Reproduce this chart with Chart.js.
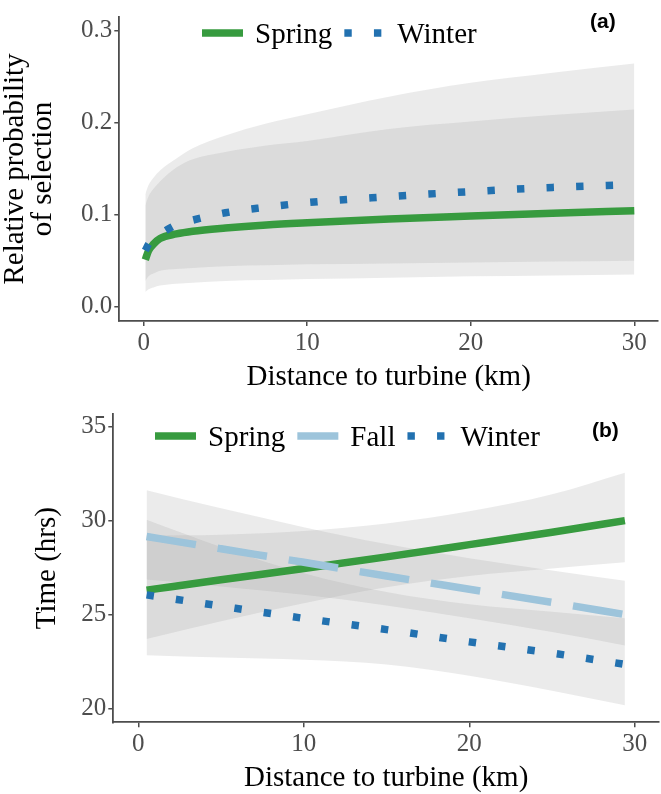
<!DOCTYPE html>
<html><head><meta charset="utf-8">
<script src="https://cdn.jsdelivr.net/npm/chart.js@4"></script>
<style>
html,body{margin:0;padding:0;background:#fff;overflow:hidden;width:661px;height:794px}
canvas{position:absolute;left:0;display:block}
#ca{top:0}
#cb{top:397px}
</style></head>
<body>
<canvas id="ca" width="661" height="397"></canvas>
<canvas id="cb" width="661" height="397"></canvas>
<script>
// ---------- data ----------
const xTicks = [0, 10, 20, 30];
const yTicksA = [0, 0.1, 0.2, 0.3];
const yTicksB = [20, 25, 30, 35];

// panel (a)
const distA     = [0.1, 0.3, 0.6, 1, 2, 3, 5, 7.5, 10, 15, 20, 25, 30];
const springA   = [0.051, 0.061, 0.068, 0.074, 0.079, 0.082, 0.0855, 0.0888, 0.0912, 0.0953, 0.0985, 0.1015, 0.1043];
const springHiA = [0.110, 0.120, 0.128, 0.136, 0.151, 0.160, 0.168, 0.175, 0.180, 0.193, 0.201, 0.208, 0.214];
const springLoA = [0.028, 0.033, 0.036, 0.039, 0.041, 0.042, 0.044, 0.045, 0.046, 0.047, 0.048, 0.049, 0.050];
const winterA   = [0.061, 0.068, 0.075, 0.079, 0.089, 0.094, 0.102, 0.108, 0.113, 0.1195, 0.125, 0.1295, 0.1325];
const winterHiA = [0.122, 0.132, 0.140, 0.148, 0.161, 0.172, 0.186, 0.199, 0.209, 0.228, 0.243, 0.254, 0.264];
const winterLoA = [0.016, 0.019, 0.021, 0.023, 0.025, 0.026, 0.028, 0.029, 0.030, 0.0315, 0.033, 0.034, 0.035];

// panel (b)
const distB     = [0.5, 5, 10, 15, 20, 25, 29.4];
const springB   = [26.3, 26.85, 27.45, 28.07, 28.72, 29.38, 30.0];
const springHiB = [29.2, 29.25, 29.45, 29.85, 30.5, 31.4, 32.55];
const springLoB = [23.7, 24.65, 25.6, 26.45, 27.05, 27.45, 27.78];
const fallB     = [29.15, 28.5, 27.78, 27.05, 26.35, 25.65, 25.0];
const fallHiB   = [31.62, 30.65, 29.65, 28.75, 28.0, 27.35, 26.8];
const fallLoB   = [26.86, 26.5, 26.05, 25.48, 24.8, 24.07, 23.36];
const winterB   = [26.05, 25.45, 24.8, 24.2, 23.55, 22.95, 22.35];
const winterHiB = [30.05, 28.6, 27.2, 26.2, 25.55, 25.15, 24.8];
const winterLoB = [22.84, 22.72, 22.6, 22.35, 21.75, 20.95, 20.18];

// ---------- styles ----------
const SERIF = "'Liberation Serif', 'Times New Roman', serif";
const SANS = "'Liberation Sans', Arial, sans-serif";
const GREEN = '#379b3f', BLUE = '#2271b0', LIGHTBLUE = '#9dc4db';
const BAND = 'rgba(155,155,155,0.2)';
const AXIS = '#4d4d4d';
const LW = 7.5;
const DOT = [7.4, 22.2], LONGDASH = [50, 22];

const pts = (xs, ys) => xs.map((x, i) => ({x: x, y: ys[i]}));

function lineDs(label, xs, ys, color, dash) {
  return {label, inLegend: true, data: pts(xs, ys), borderColor: color, borderWidth: LW,
    borderDash: dash, borderCapStyle: 'butt', pointRadius: 0, fill: false,
    cubicInterpolationMode: 'monotone'};
}
function ribbon(xs, hi, lo) {
  return [
    {label: '_hi', data: pts(xs, hi), borderWidth: 0, borderColor: 'rgba(0,0,0,0)',
     backgroundColor: BAND, fill: '+1', pointRadius: 0, cubicInterpolationMode: 'monotone'},
    {label: '_lo', data: pts(xs, lo), borderWidth: 0, borderColor: 'rgba(0,0,0,0)',
     fill: false, pointRadius: 0, cubicInterpolationMode: 'monotone'}
  ];
}

const insideLegend = {
  id: 'insideLegend',
  afterDraw(chart, args, o) {
    const ctx = chart.ctx;
    ctx.save();
    ctx.font = o.size + 'px ' + SERIF;
    ctx.textBaseline = 'middle';
    ctx.textAlign = 'left';
    let x = o.x;
    chart.data.datasets.filter(d => d.inLegend).sort((a, b) => a.legendOrder - b.legendOrder).forEach(d => {
      ctx.beginPath();
      ctx.setLineDash(d.borderDash || []);
      ctx.lineWidth = d.borderWidth;
      ctx.strokeStyle = d.borderColor;
      ctx.lineCap = 'butt';
      ctx.moveTo(x, o.y);
      ctx.lineTo(x + o.key, o.y);
      ctx.stroke();
      ctx.setLineDash([]);
      ctx.fillStyle = '#000';
      ctx.fillText(d.label, x + o.key + o.gap, o.y + o.textDy);
      x += o.key + o.gap + ctx.measureText(d.label).width + o.gap;
    });
    ctx.font = 'bold ' + o.tagSize + 'px ' + SANS;
    ctx.fillStyle = '#000';
    ctx.fillText(o.tag, o.tagX, o.tagY);
    ctx.restore();
  }
};

function makeScales(cfg) {
  return {
    x: {
      type: 'linear', min: cfg.xmin, max: cfg.xmax,
      afterBuildTicks: s => { s.ticks = xTicks.map(v => ({value: v})); },
      afterFit: s => { s.height = cfg.xh; },
      grid: {drawOnChartArea: false, drawTicks: true, tickLength: 5, color: AXIS, lineWidth: 1.5},
      border: {display: true, color: AXIS, width: 1.8},
      ticks: {color: AXIS, font: {family: SERIF, size: 25}, padding: 2, maxRotation: 0, autoSkip: false,
              callback: v => String(v)},
      title: {display: true, text: 'Distance to turbine (km)', color: '#000',
              font: {family: SERIF, size: 29, lineHeight: 0.95}, padding: {top: 0, bottom: cfg.xtPad}}
    },
    y: {
      type: 'linear', min: cfg.ymin, max: cfg.ymax,
      afterBuildTicks: s => { s.ticks = cfg.yticks.map(v => ({value: v})); },
      afterFit: s => { s.width = cfg.yw; },
      grid: {drawOnChartArea: false, drawTicks: true, tickLength: 5, color: AXIS, lineWidth: 1.5},
      border: {display: true, color: AXIS, width: 1.8},
      ticks: {color: AXIS, font: {family: SERIF, size: 25}, padding: 2, autoSkip: false,
              callback: cfg.yfmt},
      title: {display: true, text: cfg.ytitle, color: '#000',
              font: {family: SERIF, size: 29, lineHeight: 0.97}, padding: {top: cfg.ytPad, bottom: 0}}
    }
  };
}

// ---------- panel (a) ----------
const dsA = [
  Object.assign(lineDs('Winter', distA, winterA, BLUE, DOT), {legendOrder: 2}),
  Object.assign(lineDs('Spring', distA, springA, GREEN, []), {legendOrder: 1}),
  ...ribbon(distA, springHiA, springLoA),
  ...ribbon(distA, winterHiA, winterLoA)
];
new Chart(document.getElementById('ca'), {
  type: 'line',
  data: {datasets: dsA},
  options: {
    responsive: false, animation: false, devicePixelRatio: 1,
    layout: {padding: {top: 2, right: 3, left: 0, bottom: 0}},
    scales: makeScales({xmin: -1.49, xmax: 31.45, ymin: -0.0155, ymax: 0.3145, yticks: yTicksA,
      xh: 76, yw: 119.3, xtPad: 6, ytPad: 1.5, yfmt: v => Number(v).toFixed(1),
      ytitle: ['Relative probability', 'of selection']}),
    plugins: {
      legend: {display: false}, tooltip: {enabled: false},
      insideLegend: {x: 202, y: 33, key: 41, gap: 12, size: 29, textDy: 2,
                     tag: '(a)', tagX: 590, tagY: 22, tagSize: 21}
    }
  },
  plugins: [insideLegend]
});

// ---------- panel (b) ----------
const dsB = [
  Object.assign(lineDs('Winter', distB, winterB, BLUE, DOT), {legendOrder: 3}),
  Object.assign(lineDs('Fall', distB, fallB, LIGHTBLUE, LONGDASH), {legendOrder: 2}),
  Object.assign(lineDs('Spring', distB, springB, GREEN, []), {legendOrder: 1}),
  ...ribbon(distB, springHiB, springLoB),
  ...ribbon(distB, fallHiB, fallLoB),
  ...ribbon(distB, winterHiB, winterLoB)
];
new Chart(document.getElementById('cb'), {
  type: 'line',
  data: {datasets: dsB},
  options: {
    responsive: false, animation: false, devicePixelRatio: 1,
    layout: {padding: {top: 7, right: 2, left: 0, bottom: 0}},
    scales: makeScales({xmin: -1.51, xmax: 31.46, ymin: 19.27, ymax: 35.67, yticks: yTicksB,
      xh: 71.7, yw: 113.3, xtPad: 2, ytPad: 33, yfmt: v => String(v),
      ytitle: 'Time (hrs)'}),
    plugins: {
      legend: {display: false}, tooltip: {enabled: false},
      insideLegend: {x: 155, y: 39, key: 41, gap: 12, size: 29, textDy: 2,
                     tag: '(b)', tagX: 592, tagY: 34, tagSize: 21}
    }
  },
  plugins: [insideLegend]
});
</script>
</body></html>
